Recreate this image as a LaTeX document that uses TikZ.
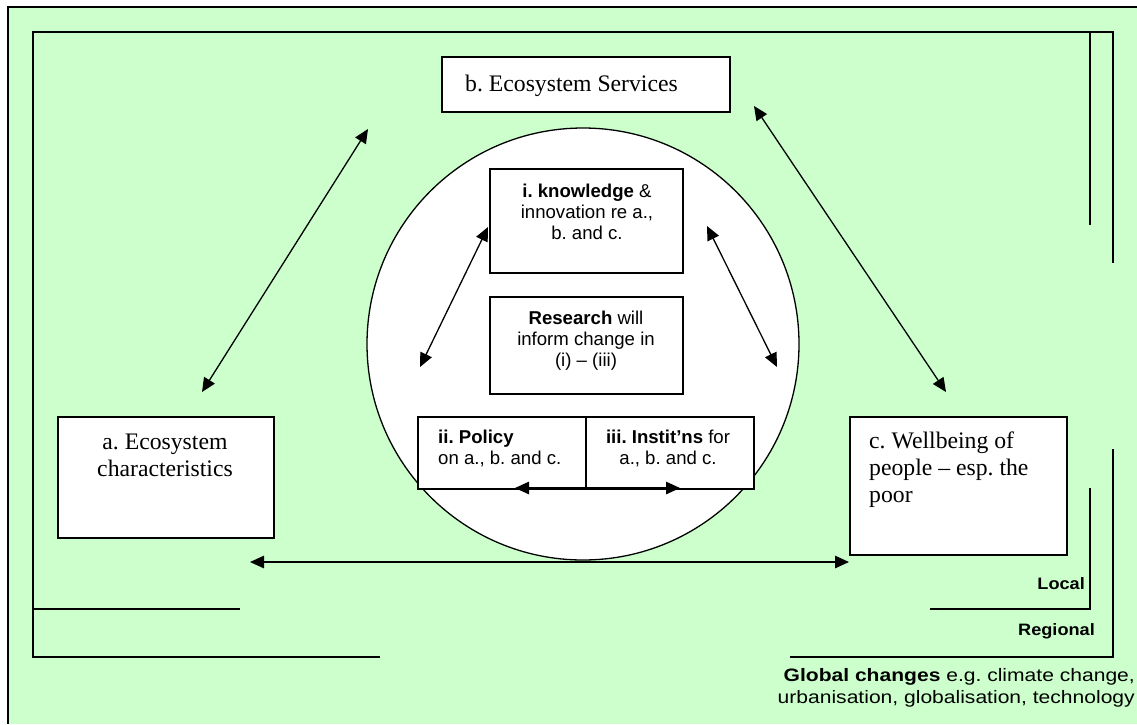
\documentclass[tikz,border=0pt]{standalone}
\usepackage{fontspec}
\setmainfont{Liberation Serif}
\setsansfont{Liberation Sans}
\newfontfamily\globalfont[FakeStretch=1.17]{Liberation Sans}
\newfontfamily\scalefont[FakeStretch=1.1]{Liberation Sans}
\usetikzlibrary{arrows.meta}
\definecolor{meadow}{HTML}{CCFFCC}
\frenchspacing
\tikzset{
  frameline/.style={line width=1.5pt, line cap=butt},
  box/.style={draw, fill=white, line width=1.5pt, inner sep=0pt, anchor=north west},
  dbl/.style={line width=1.3pt, {Triangle[length=14pt,width=12.5pt]}-{Triangle[length=14pt,width=12.5pt]}},
  serif/.style={font=\fontsize{23.7}{27}\selectfont, inner sep=0pt},
  sans/.style={font=\sffamily\fontsize{18.6}{21}\selectfont, inner sep=0pt},
  scaletext/.style={font=\scalefont\bfseries\fontsize{16.5}{20}\selectfont, inner sep=0pt},
  globaltext/.style={font=\globalfont\fontsize{18}{22}\selectfont, inner sep=0pt},
}
\begin{document}
\begin{tikzpicture}[x=1pt,y=-1pt]
  \useasboundingbox (0,0) rectangle (1137,724);
  \fill[white] (0,0) rectangle (1137,724);
  % global panel
  \fill[meadow] (8,7) rectangle (1137,724);
  \draw[frameline] (8,724) -- (8,7) -- (1137,7);

  % regional frame
  \draw[frameline] (380,657) -- (33,657) -- (33,32) -- (1113,32) -- (1113,263);
  \draw[frameline] (1113,449) -- (1113,657) -- (790,657);
  % local frame
  \draw[frameline] (240,609) -- (33,609);
  \draw[frameline] (1090,32) -- (1090,225);
  \draw[frameline] (1090,488) -- (1090,609) -- (930,609);

  % research circle
  \node[draw, fill=white, circle, line width=1.3pt, minimum size=432pt, inner sep=0pt] (hub) at (583,344) {};

  % outer boxes
  \node[box, minimum width=288pt, minimum height=55pt] (b) at (441,56) {};
  \node[box, minimum width=216pt, minimum height=121pt] (a) at (57,416) {};
  \node[box, minimum width=217pt, minimum height=138pt] (c) at (849,416) {};

  % inner boxes
  \node[box, minimum width=193pt, minimum height=104pt] (k) at (489,168) {};
  \node[box, minimum width=193pt, minimum height=97pt] (r) at (489,296) {};
  \node[box, minimum width=168pt, minimum height=72pt] (p) at (417,416) {};
  \node[box, minimum width=168pt, minimum height=72pt] (inst) at (585,416) {};

  % box texts (multi-line nodes sit on the baseline of their last line)
  \node[serif, anchor=base west] (b-text) at (465,91) {b. Ecosystem Services};
  \node[serif, anchor=base, align=center] (a-text) at (165,476) {a. Ecosystem\\characteristics};
  \node[serif, anchor=base west, align=left] (c-text) at (869,502) {c. Wellbeing of\\people – esp. the\\poor};

  \node[sans, anchor=base, align=center] (k-text) at (587,239) {\textbf{i. knowledge} \&\\innovation re a.,\\b. and c.};
  \node[sans, anchor=base, align=center] (r-text) at (586,366) {\textbf{Research} will\\inform change in\\(i) – (iii)};
  \node[sans, anchor=base west, align=left] (p-text) at (438,464) {\textbf{ii. Policy}\\on a., b. and c.};
  \node[sans, anchor=base, align=center] (inst-text) at (668,464) {\textbf{iii. Instit’ns} for\\a., b. and c.};

  % scale labels
  \node[scaletext, anchor=base east] (local) at (1085,589) {Local};
  \node[scaletext, anchor=base east] (regional) at (1095,635) {Regional};
  \node[globaltext, anchor=base east, align=right] (global) at (1135,703)
    {\textbf{Global changes} e.g. climate change,\\urbanisation, globalisation, technology};

  % connector ends
  \coordinate (ab-a) at (202,392);
  \coordinate (ab-b) at (368,129);
  \coordinate (bc-b) at (754,106);
  \coordinate (bc-c) at (946,392);
  \coordinate (ac-a) at (250,562);
  \coordinate (ac-c) at (849,562);
  \coordinate (kl-k) at (488,227);
  \coordinate (kl-p) at (420,367);
  \coordinate (kr-k) at (707,226);
  \coordinate (kr-i) at (777,367);
  \coordinate (pi-p) at (515,488);
  \coordinate (pi-i) at (680,488);

  % connectors
  \draw[dbl] (ab-a) -- (ab-b);
  \draw[dbl] (bc-b) -- (bc-c);
  \draw[dbl] (ac-a) -- (ac-c);
  \draw[dbl] (kl-p) -- (kl-k);
  \draw[dbl] (kr-k) -- (kr-i);
  \draw[dbl] (pi-p) -- (pi-i);
\end{tikzpicture}
\end{document}
